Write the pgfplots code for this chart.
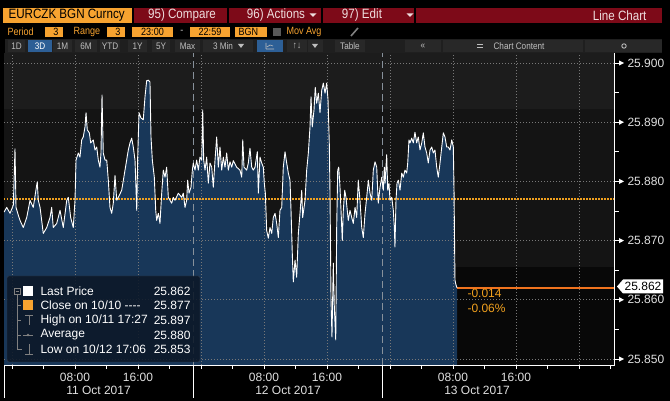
\documentclass[border=0pt]{standalone}
\usepackage{pgfplots}
\pgfplotsset{compat=1.18}
\usepackage{pgfplotstable}
\usepackage{fontspec}
\setmainfont{Liberation Sans}
\newfontfamily\hdr{Liberation Sans}[FakeStretch=0.86]

\definecolor{bborange}{RGB}{247,163,48}
\definecolor{bbred}{RGB}{125,10,24}
\definecolor{hdrtxt}{RGB}{238,222,222}
\definecolor{btnbg}{RGB}{40,40,40}
\definecolor{btntxt}{RGB}{190,190,190}
\definecolor{btnblue}{RGB}{45,95,150}
\definecolor{bandA}{RGB}{28,28,28}
\definecolor{bandB}{RGB}{20,20,20}
\definecolor{bandC}{RGB}{8,8,8}
\definecolor{areafill}{RGB}{24,55,89}
\definecolor{gridc}{RGB}{120,120,120}
\definecolor{sepc}{RGB}{135,145,155}
\definecolor{closeorange}{RGB}{240,160,30}
\definecolor{lastorange}{RGB}{240,115,30}
\definecolor{legbg}{RGB}{12,24,40}
\definecolor{legline}{RGB}{50,62,78}

\begin{document}
% hours from 00:00 11 Oct 2017, EURCZK price
\pgfplotstableread{
h v
-1.01 25.8748
-0.67 25.8756
-0.25 25.8746
0.17 25.8760
0.38 25.8855
0.51 25.8756
0.80 25.8743
1.02 25.8734
1.43 25.8722
1.87 25.8739
2.29 25.8768
2.70 25.8756
3.14 25.8794
3.21 25.8799
3.34 25.8768
3.56 25.8756
3.77 25.8734
3.97 25.8712
4.41 25.8722
4.83 25.8739
5.04 25.8756
5.24 25.8722
5.68 25.8729
6.10 25.8751
6.51 25.8722
6.95 25.8768
7.15 25.8773
7.45 25.8739
7.78 25.8722
8.00 25.8768
8.13 25.8836
8.42 25.8848
8.63 25.8841
8.85 25.8870
9.05 25.8875
9.27 25.8892
9.40 25.8916
9.56 25.8887
9.82 25.8882
9.99 25.8865
10.32 25.8870
10.54 25.8853
10.76 25.8858
10.96 25.8836
11.17 25.8824
11.30 25.8848
11.43 25.8946
11.59 25.8848
11.81 25.8836
12.03 25.8836
12.23 25.8802
12.44 25.8756
12.66 25.8746
12.86 25.8763
13.08 25.8810
13.30 25.8768
13.50 25.8773
13.93 25.8785
14.35 25.8819
14.77 25.8853
14.98 25.8865
15.20 25.8873
15.40 25.8858
15.62 25.8836
15.84 25.8751
15.96 25.8841
16.13 25.8916
16.38 25.8907
16.67 25.8904
16.89 25.8943
17.10 25.8970
17.31 25.8971
17.52 25.8968
17.65 25.8875
17.82 25.8836
18.07 25.8807
18.25 25.8751
18.37 25.8734
18.58 25.8746
18.79 25.8729
19.01 25.8780
19.21 25.8819
19.43 25.8807
19.64 25.8824
19.85 25.8773
20.06 25.8768
20.28 25.8763
20.48 25.8773
20.70 25.8768
21.12 25.8780
21.55 25.8773
21.75 25.8780
21.97 25.8756
22.18 25.8768
22.31 25.8802
22.48 25.8780
22.73 25.8790
22.90 25.8819
23.02 25.8831
23.24 25.8819
23.45 25.8836
23.66 25.8819
23.87 25.8841
24.09 25.8836
24.22 25.8921
24.34 25.8836
24.51 25.8819
24.72 25.8841
24.93 25.8797
25.14 25.8831
25.36 25.8824
25.56 25.8790
25.78 25.8836
25.99 25.8875
26.20 25.8824
26.41 25.8858
26.63 25.8819
26.83 25.8841
27.05 25.8824
27.26 25.8848
27.47 25.8819
27.68 25.8833
27.90 25.8824
28.10 25.8835
28.53 25.8824
28.95 25.8819
29.17 25.8807
29.30 25.8870
29.46 25.8824
29.80 25.8819
30.01 25.8831
30.22 25.8856
30.44 25.8824
30.64 25.8819
30.86 25.8824
31.15 25.8850
31.28 25.8780
31.49 25.8841
31.71 25.8831
31.91 25.8824
32.04 25.8797
32.17 25.8780
32.34 25.8717
32.55 25.8704
32.76 25.8722
32.98 25.8712
33.18 25.8739
33.40 25.8746
33.61 25.8729
33.82 25.8705
34.03 25.8751
34.25 25.8756
34.45 25.8824
34.67 25.8850
34.88 25.8831
35.09 25.8814
35.30 25.8802
35.43 25.8751
35.59 25.8679
35.72 25.8630
35.94 25.8667
36.15 25.8638
36.36 25.8712
36.57 25.8746
36.79 25.8785
36.91 25.8739
37.21 25.8768
37.42 25.8819
37.63 25.8848
37.84 25.8892
37.97 25.8943
38.13 25.8892
38.35 25.8921
38.51 25.8959
38.69 25.8932
38.90 25.8949
39.11 25.8916
39.33 25.8954
39.53 25.8966
39.75 25.8949
39.96 25.8966
40.13 25.8938
40.29 25.8865
40.38 25.8780
40.51 25.8600
40.63 25.8537
40.80 25.8662
40.93 25.8588
41.11 25.8532
41.23 25.8722
41.36 25.8819
41.49 25.8824
41.65 25.8790
41.78 25.8751
41.94 25.8700
42.07 25.8751
42.25 25.8785
42.41 25.8773
42.70 25.8734
42.92 25.8751
43.14 25.8739
43.34 25.8729
43.56 25.8756
43.77 25.8739
43.97 25.8802
44.19 25.8768
44.41 25.8722
44.61 25.8705
44.83 25.8746
45.04 25.8773
45.25 25.8802
45.46 25.8780
45.68 25.8768
45.88 25.8819
46.10 25.8833
46.31 25.8824
46.51 25.8763
46.73 25.8790
46.95 25.8807
47.15 25.8785
47.28 25.8824
47.37 25.8797
47.58 25.8845
47.71 25.8785
47.87 25.8797
48.00 25.8768
48.22 25.8773
48.42 25.8751
48.55 25.8722
48.63 25.8689
48.76 25.8768
48.89 25.8797
49.06 25.8802
49.27 25.8785
49.49 25.8814
49.69 25.8807
49.90 25.8819
50.12 25.8814
50.25 25.8831
50.41 25.8870
50.54 25.8865
50.76 25.8873
50.96 25.8865
51.17 25.8883
51.39 25.8865
51.59 25.8875
51.81 25.8853
52.03 25.8865
52.23 25.8882
52.44 25.8858
52.66 25.8848
52.86 25.8831
53.08 25.8853
53.30 25.8858
53.50 25.8848
53.71 25.8853
53.93 25.8824
54.13 25.8807
54.35 25.8831
54.57 25.8858
54.77 25.8882
54.98 25.8875
55.20 25.8858
55.40 25.8858
55.62 25.8853
55.84 25.8870
56.04 25.8858
56.13 25.8785
56.25 25.8633
56.38 25.8625
56.51 25.8620
}\curve

% reference levels: close on 10/10 and last price
\pgfplotstableread{
h v
-1.016 25.877
76.444 25.877
}\closeline
\pgfplotstableread{
h v
56.51 25.862
76.444 25.862
}\lastline

\begin{tikzpicture}[x=1pt,y=1pt]
\fill[black] (0,0) rectangle (670,401);

% ---- header row 1
\fill[bborange] (3,378) rectangle (132,393);
\node[anchor=west,text=black,font=\hdr\fontsize{13.5}{15}\selectfont] at (5,385.5) {EURCZK BGN Curncy};
\fill[bbred] (133.5,378) rectangle (227,393);
\node[text=hdrtxt,font=\hdr\fontsize{13.5}{15}\selectfont] at (182,385.5) {95) Compare};
\fill[bbred] (228.5,378) rectangle (321,393);
\node[text=hdrtxt,font=\hdr\fontsize{13.5}{15}\selectfont] at (276,385.5) {96) Actions};
\fill[hdrtxt] (309.5,387.5) -- (316.5,387.5) -- (313,384) -- cycle;
\fill[bbred] (322.5,378) rectangle (414,393);
\node[text=hdrtxt,font=\hdr\fontsize{13.5}{15}\selectfont] at (362,385.5) {97) Edit};
\fill[hdrtxt] (406.5,387.5) -- (413.5,387.5) -- (410,384) -- cycle;
\fill[bbred] (415.5,378) rectangle (662,393);
\node[anchor=east,text=hdrtxt,font=\hdr\fontsize{13.5}{15}\selectfont] at (650,385.5) {Line Chart};

% ---- header row 2
\begin{scope}[font=\hdr\fontsize{10.5}{12}\selectfont]
\node[anchor=west,text=bborange] at (4,369) {Period};
\fill[bborange] (45,364) rectangle (63,374);
\node[anchor=east,text=black] at (62,369) {3};
\node[anchor=west,text=bborange] at (70,369) {Range};
\fill[bborange] (107,364) rectangle (125,374);
\node[anchor=east,text=black] at (124,369) {3};
\fill[bborange] (132,364) rectangle (173,374);
\node[text=black] at (152.5,369) {23:00};
\node[text=btntxt] at (182,369) {-};
\fill[bborange] (190,364) rectangle (230,374);
\node[text=black] at (210,369) {22:59};
\fill[bborange] (235,364) rectangle (267,374);
\node[anchor=west,text=black] at (235,369) {BGN};
\fill[gray!70!black] (273,365) rectangle (281,373);
\node[anchor=west,text=bborange] at (283,369) {Mov Avg};
\end{scope}
\draw[gray,line width=1.6pt] (351,365) -- (358,373);

% ---- header row 3 (buttons)
\fill[black!88] (5,348) rectangle (662,362);
\foreach \a/\b/\t in {8/25/1D,53/72/1M,75/97/6M,100/120/YTD,128/147/1Y,152/170/5Y,175/200/Max,287/307/{\textuparrow\textdownarrow},335/365/Table,405/441/«}{
  \fill[btnbg] (\a,349) rectangle (\b,361);
  \node[text=btntxt,font=\hdr\fontsize{9.5}{11}\selectfont] at ({(\a+\b)/2},355) {\t};
}
\fill[btnblue] (28,349) rectangle (52,361);
\node[text=white,font=\hdr\fontsize{9.5}{11}\selectfont] at (40,355) {3D};
\fill[btnbg] (203,349) rectangle (253,361);
\node[text=btntxt,font=\hdr\fontsize{9.5}{11}\selectfont] at (223,355) {3 Min};
\fill[btntxt] (238,357) -- (244,357) -- (241,353) -- cycle;
\fill[btnblue] (257,349) rectangle (283,361);
\draw[btntxt,line width=0.6pt] (266,352) -- (266,358) (266,352) -- (274,352) (267,354) -- (270,356) -- (273,355);
\fill[btnbg] (308,349) rectangle (323,361);
\fill[btntxt] (312,357) -- (318,357) -- (315,353) -- cycle;
\fill[btnbg] (442.5,349) rectangle (583,361);
\node[text=btntxt,font=\hdr\fontsize{9.5}{11}\selectfont] at (519,355) {Chart Content};
\draw[btntxt,line width=0.5pt] (477,356.5) -- (483,356.5) (477,354) -- (483,354);
\fill[btnbg] (585,349) rectangle (662,361);
\draw[btntxt,line width=0.9pt] (624,355) circle (2.2);

% ---- chart
\begin{axis}[
  at={(4pt,36pt)}, anchor=south west,
  scale only axis, width=610pt, height=312pt,
  xmin=-1.016, xmax=76.444,
  ymin=25.84897, ymax=25.90169,
  hide axis, clip=true,
]
\fill[bandA] (axis cs:-1.016,25.8922) rectangle (axis cs:76.444,25.90169);
\fill[bandB] (axis cs:-1.016,25.8655) rectangle (axis cs:76.444,25.8922);
\fill[bandC] (axis cs:-1.016,25.84897) rectangle (axis cs:76.444,25.8655);

% area under the price line
\addplot[draw=none, fill=areafill, forget plot]
  table[x=h,y=v]{\curve} |- (axis cs:-1.016,25.84897) -- cycle;

\pgfplotsinvokeforeach{25.85,25.86,25.87,25.88,25.89,25.90}{
  \draw[gridc, line width=0.6pt, dash pattern=on 1pt off 2pt]
    (axis cs:-1.016,#1) -- (axis cs:76.444,#1);
}
\pgfplotsinvokeforeach{0,8,16,24,32,40,48,56,64,72}{
  \draw[gridc, line width=0.6pt, dash pattern=on 1pt off 2pt]
    (axis cs:#1,25.84897) -- (axis cs:#1,25.90169);
}
\pgfplotsinvokeforeach{23,47}{
  \draw[sepc, line width=0.6pt, dash pattern=on 7pt off 4pt]
    (axis cs:#1,25.84897) -- (axis cs:#1,25.90169);
}

\addplot[draw=closeorange, line width=1.4pt, dash pattern=on 1.5pt off 1.5pt, forget plot]
  table[x=h,y=v]{\closeline};
\addplot[draw=lastorange, line width=1.3pt, forget plot]
  table[x=h,y=v]{\lastline};
\addplot[draw=white, line width=0.9pt, line join=round, forget plot]
  table[x=h,y=v]{\curve};
\end{axis}

% ---- axes frame
\draw[white, line width=0.8pt] (4,36) -- (615,36);
\draw[white, line width=0.8pt] (614.6,36) -- (614.6,348);
\foreach \k in {0,...,19}{
  \draw[white, line width=0.6pt] ({12+31.5*\k},36) -- ({12+31.5*\k},32);
}
\foreach \xx in {4.1,193.1,382.1}{
  \draw[white, line width=0.8pt] (\xx,36) -- (\xx,3);
}
\begin{scope}[font=\fontsize{12}{14}\selectfont, text=white!88!black]
\foreach \xx/\t in {75/08:00,138/16:00,264/08:00,327/16:00,453/08:00,516/16:00}{
  \node at (\xx,24) {\t};
}
\node at (98.5,10.5) {11 Oct 2017};
\node at (288,10.5) {12 Oct 2017};
\node at (477,10.5) {13 Oct 2017};

% right axis
\foreach \yy/\t in {338/25.900,278.8/25.890,219.6/25.880,160.4/25.870,101.2/25.860,42/25.850}{
  \draw[white, line width=0.6pt] (615,\yy) -- (619,\yy);
  \fill[white] (619,\yy+2.6) -- (624,\yy) -- (619,\yy-2.6) -- cycle;
  \node[anchor=west] at (624,\yy) {\t};
}
\foreach \yy in {308.4,249.2,190,130.8,71.6}{
  \draw[white, line width=0.6pt] (615,\yy) -- (619,\yy);
}
\end{scope}
\fill[white] (617,114.5) -- (623,121.5) -- (663,121.5) -- (663,107.5) -- (623,107.5) -- cycle;
\node[text=black,font=\fontsize{12}{14}\selectfont] at (643,114.5) {25.862};

\node[anchor=west,text=closeorange,font=\fontsize{12}{14}\selectfont] at (464,108) {-0.014};
\node[anchor=west,text=closeorange,font=\fontsize{12}{14}\selectfont] at (464,93) {-0.06\%};

% ---- legend
\fill[legbg, fill opacity=0.88, rounded corners=1.5pt] (7,39) rectangle (200,125);
\draw[legline, rounded corners=1.5pt] (7,39) rectangle (200,125);
\draw[gray, line width=0.6pt] (17,107) -- (17,52) -- (22,52);
\foreach \yy in {95.5,81,66}{ \draw[gray, line width=0.6pt] (17,\yy) -- (21,\yy); }
\fill[legbg] (14,107) rectangle (20,113);
\draw[gray, line width=0.6pt] (14,107) rectangle (20,113) (15.5,110) -- (18.5,110);
\fill[white] (23,105) rectangle (33,115);
\fill[bborange] (23,90.5) rectangle (33,100.5);
\draw[gray, line width=0.8pt] (25,86) -- (33,86) (29,86) -- (29,76);
\draw[gray, line width=0.8pt] (23,66) -- (33,66);
\fill[gray] (28,66) circle (1.4);
\draw[gray, line width=0.8pt] (29,57) -- (29,47) (25,47) -- (33,47);
\begin{scope}[font=\fontsize{12}{14}\selectfont, text=white]
\node[anchor=west] at (37,110) {Last Price};
\node[anchor=west] at (37,95.5) {Close on 10/10 -{}-{}-{}-};
\node[anchor=west] at (37,81) {High on 10/11 17:27};
\node[anchor=west] at (37,66) {Average};
\node[anchor=west] at (37,52) {Low on 10/12 17:06};
\node[anchor=east] at (194,110) {25.862};
\node[anchor=east] at (194,95.5) {25.877};
\node[anchor=east] at (194,81) {25.897};
\node[anchor=east] at (194,66) {25.880};
\node[anchor=east] at (194,52) {25.853};
\end{scope}
\end{tikzpicture}
\end{document}
